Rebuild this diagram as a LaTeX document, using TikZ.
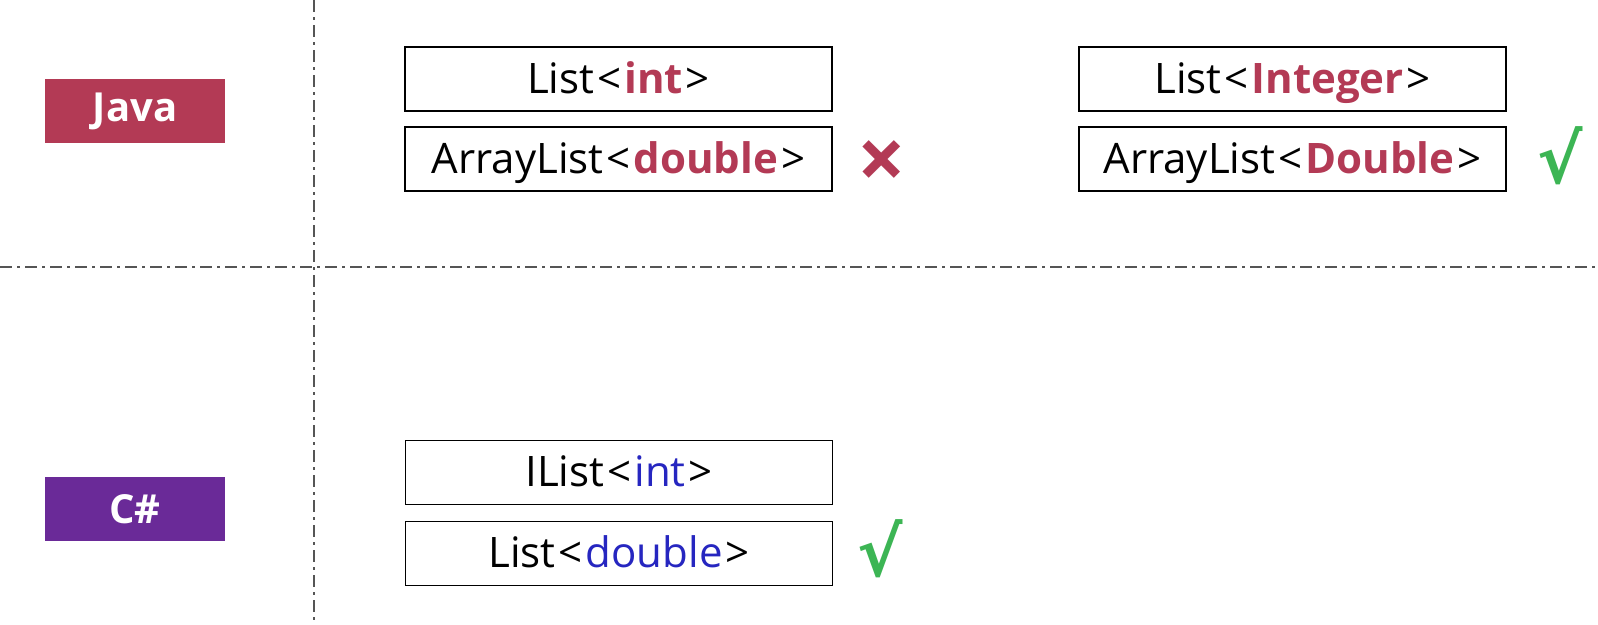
\documentclass[tikz,border=0pt]{standalone}
\usepackage{fontspec}
\setmainfont{Open Sans}
\newfontfamily\symfont{DejaVu Sans}
\definecolor{jred}{HTML}{B33A55}
\definecolor{cpurple}{HTML}{6A2A98}
\definecolor{cblue}{HTML}{2626C0}
\definecolor{okgreen}{HTML}{3CB554}
\definecolor{sepgray}{HTML}{555555}
\newcommand{\lt}{\kern3pt<\kern3pt}
\newcommand{\gt}{\kern3pt>}
\begin{document}
\begin{tikzpicture}[x=1pt,y=-1pt,
  lang/.style={minimum width=180pt,minimum height=64pt,inner sep=0pt,text=white,font=\bfseries\fontsize{40}{44}\selectfont},
  typebox/.style={draw=black,line width=1.6pt,minimum width=427pt,minimum height=64pt,inner sep=0pt,text height=32pt,text depth=4pt,font=\fontsize{42}{48}\selectfont},
  sepline/.style={draw=sepgray,line width=1.5pt,dash pattern=on 12pt off 5pt on 3pt off 5pt},
  verdict/.style={inner sep=0pt}]
\useasboundingbox (0,0) rectangle (1598,624);
\fill[white] (0,0) rectangle (1598,624);
% separators
\draw[sepline] (314,0) -- (314,624);
\draw[sepline] (0,267) -- (1598,267);
% language labels
\node[lang,fill=jred] (java) at (135,111) {Java};
\node[lang,fill=cpurple] (csharp) at (135,509) {C\#};
% Java boxes
\node[typebox] (jlist) at (618.5,79) {List\lt\textbf{\textcolor{jred}{int}}\gt};
\node[typebox] (jarr) at (618.5,159) {ArrayList\lt\textbf{\textcolor{jred}{double}}\gt};
\node[typebox] (jlistI) at (1292.5,79) {List\lt\textbf{\textcolor{jred}{Integer}}\gt};
\node[typebox] (jarrD) at (1292.5,159) {ArrayList\lt\textbf{\textcolor{jred}{Double}}\gt};
% C# boxes
\node[typebox] (clist) at (619,472.5) {IList\lt\textcolor{cblue}{int}\gt};
\node[typebox] (carr) at (619,553.5) {List\lt\textcolor{cblue}{double}\gt};
% verdicts
\node[verdict,text=jred,font=\bfseries\fontsize{85}{85}\selectfont] (cross) at (882,165) {×};
\node[verdict,text=okgreen,font=\symfont\bfseries\fontsize{68}{68}\selectfont] (ok1) at (1560,156) {√};
\node[verdict,text=okgreen,font=\symfont\bfseries\fontsize{68}{68}\selectfont] (ok2) at (880,549) {√};
\end{tikzpicture}
\end{document}
